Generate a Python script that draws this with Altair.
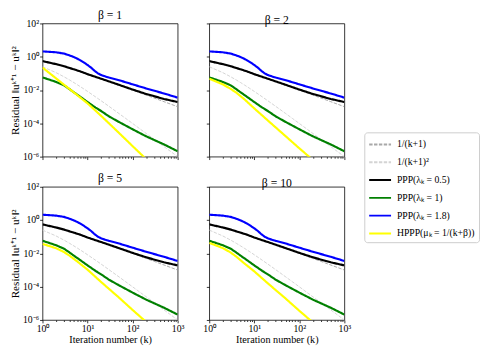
import altair as alt
import pandas as pd

# ---------------- data ----------------
S_REF1 = "1/(k+1)"
S_REF2 = "1/(k+1)²"
S_B05 = "PPP(λₖ = 0.5)"
S_B1 = "PPP(λₖ = 1)"
S_B18 = "PPP(λₖ = 1.8)"
S_H = "HPPP(μₖ = 1/(k+β))"
series_order = [S_REF1, S_REF2, S_B05, S_B1, S_B18, S_H]
series_colors = ["#a8a8a8", "#d4d4d4", "#000000", "#008000", "#0000ff", "#ffff00"]

panels = ["β = 1", "β = 2", "β = 5", "β = 10"]

k_ref = [1, 2, 3, 4, 5, 6, 8, 10, 15, 20, 30, 50, 70, 100, 150, 200, 300, 500, 700, 1000]
ref1 = [0.5, 0.3333, 0.25, 0.2, 0.1667, 0.1429, 0.1111, 0.0909, 0.0625, 0.0476,
        0.03226, 0.01961, 0.01408, 0.0099, 0.00662, 0.004975, 0.003322, 0.001996,
        0.001427, 0.000999]
ref2 = [0.25, 0.1111, 0.0625, 0.04, 0.02778, 0.02041, 0.01235, 0.008264, 0.003906,
        0.002268, 0.001041, 0.0003845, 0.0001984, 9.803e-5, 4.383e-5, 2.475e-5,
        1.104e-5, 3.984e-6, 2.037e-6, 9.98e-7]

k_ppp = [1, 2, 3, 4, 5, 7, 10, 15, 20, 30, 50, 100, 200, 500, 1000]
ppp_05 = [0.55, 0.36, 0.27, 0.21, 0.175, 0.13, 0.09, 0.062, 0.048, 0.033, 0.0205,
          0.0107, 0.0058, 0.0029, 0.0019]
ppp_1 = [0.0575, 0.0309, 0.0191, 0.0112, 0.0072, 0.0038, 0.0019, 8.9e-4, 5.5e-4,
         2.6e-4, 1.2e-4, 4.4e-5, 1.66e-5, 5.4e-6, 2.1e-6]

k_blue = [1, 2, 3, 4, 5, 6, 7, 8, 10, 12, 14, 17, 20, 25, 30, 50, 100, 200, 500, 1000]
ppp_18 = [2.1, 1.85, 1.55, 1.2, 0.95, 0.75, 0.6, 0.48, 0.32, 0.22, 0.15, 0.1, 0.08,
          0.065, 0.056, 0.039, 0.022, 0.0125, 0.0062, 0.0035]

k_h1 = [1, 2, 3, 5, 10, 20, 50, 100, 200, 1000]
hppp_b1 = [0.224, 0.0501, 0.0209, 0.00708, 0.00158, 2.82e-4, 2.63e-5, 4.27e-6, 7.1e-7, 1e-8]
k_h = [1, 2, 3, 4, 6, 10, 20, 50, 100, 200, 1000]
hppp_b2 = [0.0479, 0.0219, 0.01175, 0.00692, 0.00282, 7.9e-4, 1.48e-4, 1.66e-5, 3.16e-6, 6.3e-7, 1e-8]
hppp_b5 = [0.0372, 0.0204, 0.0120, 0.00724, 0.00316, 0.00105, 1.9e-4, 2.19e-5, 3.98e-6, 7.6e-7, 1.6e-8]
hppp_b10 = [0.0427, 0.0209, 0.0112, 0.0063, 0.00251, 8.3e-4, 1.58e-4, 1.9e-5, 3.55e-6, 7.1e-7, 1.6e-8]

x_major = [1, 10, 100, 1000]
x_minor = [2, 3, 4, 5, 6, 7, 8, 9, 20, 30, 40, 50, 60, 70, 80, 90,
           200, 300, 400, 500, 600, 700, 800, 900]
y_major = [100, 1, 0.01, 0.0001, 0.000001]

# ---------------- long table ----------------
rows = []
hppp = {"β = 1": (k_h1, hppp_b1), "β = 2": (k_h, hppp_b2),
        "β = 5": (k_h, hppp_b5), "β = 10": (k_h, hppp_b10)}
for p in panels:
    for s, ks, vs in [(S_REF1, k_ref, ref1), (S_REF2, k_ref, ref2),
                      (S_B05, k_ppp, ppp_05), (S_B1, k_ppp, ppp_1),
                      (S_B18, k_blue, ppp_18), (S_H,) + hppp[p]]:
        for k, v in zip(ks, vs):
            rows.append({"panel": p, "series": s, "k": k, "r": v})
df = pd.DataFrame(rows)

FONT = "Liberation Serif"
W, H = 139, 137

x_label_expr = ("datum.value == 1 ? '10⁰' : datum.value == 10 ? '10¹' : "
                "datum.value == 100 ? '10²' : datum.value == 1000 ? '10³' : ''")
y_label_expr = ("datum.value == 100 ? '10²' : datum.value == 1 ? '10⁰' : "
                "datum.value == 0.01 ? '10⁻²' : datum.value == 0.0001 ? '10⁻⁴' : "
                "datum.value == 0.000001 ? '10⁻⁶' : ''")
major_test = "datum.value == 1 || datum.value == 10 || datum.value == 100 || datum.value == 1000"

color_scale = alt.Scale(domain=series_order, range=series_colors)
dash_scale = alt.Scale(domain=series_order,
                       range=[[3.5, 1.5], [3.5, 1.5], [1, 0], [1, 0], [1, 0], [1, 0]])

legend = alt.Legend(title=None, orient="none", legendX=331, legendY=112,
                    symbolType="M-1,0L2,0", symbolSize=225, symbolStrokeWidth=2,
                    labelFont=FONT, labelFontSize=10, labelColor="black",
                    labelOffset=12.5, strokeColor="#cccccc", fillColor="white",
                    padding=4, cornerRadius=3, rowPadding=4.3, labelLimit=300)


def panel(name, show_x, show_y):
    xaxis = alt.Axis(values=x_major + x_minor, labelExpr=x_label_expr,
                     labels=show_x, title="Iteration number (k)" if show_x else None,
                     tickSize={"condition": {"test": major_test, "value": 3}, "value": 1.6},
                     labelPadding=1, titlePadding=1, labelFlush=False)
    yaxis = alt.Axis(values=y_major, labelExpr=y_label_expr, labels=show_y,
                     title="Residual ‖uᵏ⁺¹ − uᵏ‖²" if show_y else None,
                     titleFontSize=11.5, tickSize=3, labelPadding=1, titlePadding=2)
    base = alt.Chart(df[df.panel == name])
    layers = []
    for s in series_order:
        sw = 1 if s in (S_REF1, S_REF2) else 2.2
        layers.append(
            base.transform_filter(alt.datum.series == s)
            .mark_line(strokeWidth=sw, clip=True)
            .encode(
                x=alt.X("k:Q", scale=alt.Scale(type="log", domain=[1, 1000], nice=False),
                        axis=xaxis),
                y=alt.Y("r:Q", scale=alt.Scale(type="log", domain=[1e-6, 100], nice=False),
                        axis=yaxis),
                color=alt.Color("series:N", scale=color_scale, legend=legend),
                strokeDash=alt.StrokeDash("series:N", scale=dash_scale, legend=legend),
                order=alt.Order("k:Q"),
            )
        )
    return alt.layer(*layers).properties(width=W, height=H, title=name)


chart = alt.concat(
    panel("β = 1", False, True), panel("β = 2", False, False),
    panel("β = 5", True, True), panel("β = 10", True, False),
    columns=2, spacing={"row": 31, "column": 32.5}, bounds="flush",
).properties(padding={"left": 1.5, "top": -4, "right": 0, "bottom": 0}
).configure_view(stroke="black", strokeWidth=0.8
).configure_title(font=FONT, fontSize=12, fontWeight="normal", offset=-3.5,
                  color="black"
).configure_axis(grid=False, domain=False, tickColor="black", tickWidth=0.8,
                 labelFont=FONT, labelFontSize=10, labelColor="black",
                 titleFont=FONT, titleFontSize=10.5, titleFontWeight="normal",
                 titleColor="black")

chart.save("out.html", embed_options={"renderer": "svg", "actions": False})
